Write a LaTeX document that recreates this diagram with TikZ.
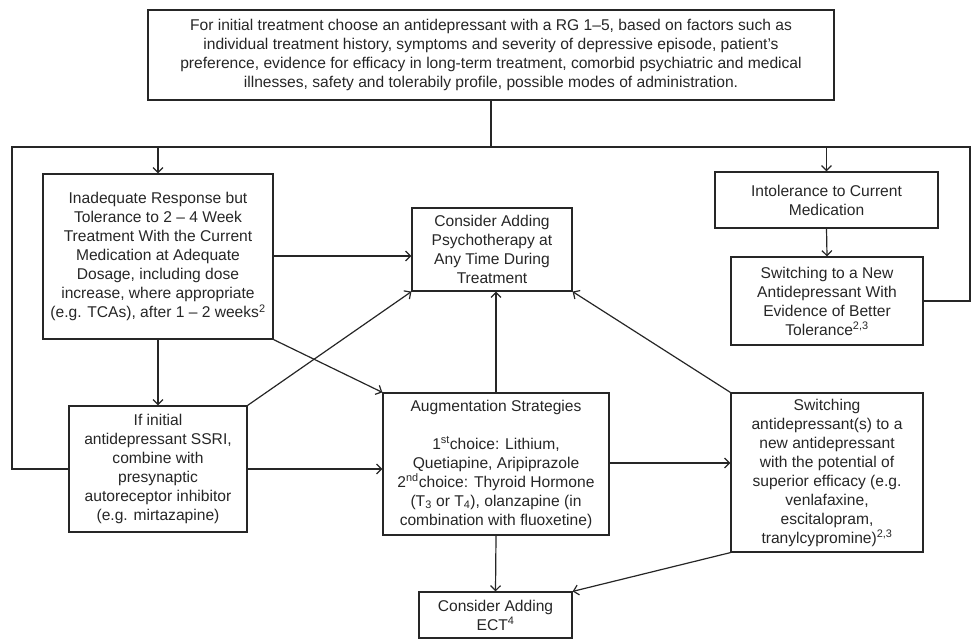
\documentclass[tikz,border=0pt]{standalone}
\usepackage{fontspec}
\setmainfont{Liberation Sans}
\usetikzlibrary{arrows.meta}
\definecolor{ink}{HTML}{262626}
\tikzset{
  box/.style={draw=ink, line width=1.2pt, rectangle, inner sep=0pt, align=center,
    text=ink, font={\fontsize{15.6}{19}\selectfont}},
  link/.style={draw=ink, line width=1.2pt, -{Straight Barb[length=5pt,width=10pt,line width=1.2pt]}},
  loop/.style={draw=ink, line width=1.6pt},
  plain/.style={draw=ink, line width=1.2pt},
}
\newcommand{\boxat}[6]{% name, x1, y1, x2, y2, text
  \node[box, minimum width={#4-#2}, minimum height={#5-#3}] (#1) at ({(#2+#4)/2},{(#3+#5)/2}) {#6};}
\begin{document}
\begin{tikzpicture}[x=1pt, y=-1pt]
\useasboundingbox (0,0) rectangle (973,640);

% boxes
\boxat{top}{148}{10}{834}{100}{For initial treatment choose an antidepressant with a RG 1–5, based on factors such as\\
individual treatment history, symptoms and severity of depressive episode, patient’s\\
preference, evidence for efficacy in long-term treatment, comorbid psychiatric and medical\\
illnesses, safety and tolerabily profile, possible modes of administration.}

\boxat{inad}{43}{174}{273}{339}{Inadequate Response but\\ Tolerance to 2 – 4 Week\\ Treatment With the Current\\ Medication at Adequate\\ Dosage, including dose\\ increase, where appropriate\\ (e.g. TCAs), after 1 – 2 weeks\textsuperscript{2}}

\boxat{psych}{412}{208}{572}{291}{Consider Adding\\ Psychotherapy at\\ Any Time During\\ Treatment}

\boxat{intol}{715}{172}{938}{228}{Intolerance to Current\\ Medication}

\boxat{swnew}{731}{257}{923}{345}{Switching to a New\\ Antidepressant With\\ Evidence of Better\\ Tolerance\textsuperscript{2,3}}

\boxat{ifinit}{69}{406}{247}{532}{If initial\\ antidepressant SSRI,\\ combine with\\ presynaptic\\ autoreceptor inhibitor\\ (e.g. mirtazapine)}

\boxat{aug}{383}{393}{609}{535}{Augmentation Strategies\\[19pt] 1\textsuperscript{st}choice: Lithium,\\ Quetiapine, Aripiprazole\\ 2\textsuperscript{nd}choice: Thyroid Hormone\\ (T\textsubscript{3} or T\textsubscript{4}), olanzapine (in\\ combination with fluoxetine)}

\boxat{sweff}{731}{393}{923}{552}{Switching\\ antidepressant(s) to a\\ new antidepressant\\ with the potential of\\ superior efficacy (e.g.\\ venlafaxine,\\ escitalopram,\\ tranylcypromine)\textsuperscript{2,3}}

\boxat{ect}{419}{592}{572}{638}{Consider Adding\\ ECT\textsuperscript{4}}

% outer loop joining the start box with both branches
\coordinate (junc) at (491,147);
\coordinate (lcorner) at (12,147);
\coordinate (rcorner) at (970,147);
\draw[plain] (top.south) -- (junc);
\draw[loop] (ifinit.west) -| (lcorner) -- (rcorner) |- (swnew.east);
\draw[link] (inad.north |- junc) -- (inad.north);
\draw[link] (intol.north |- junc) -- (intol.north);

% connectors between the boxes
\draw[link] (inad.east |- 0,256) -- (psych.west |- 0,256);
\draw[link] (inad.south) -- (ifinit.north);
\draw[link] (inad.south east) -- (aug.north west);
\draw[link] (ifinit.north east) -- (psych.south west);
\draw[link] (ifinit.east) -- (aug.west |- ifinit.east);
\draw[link] (aug.north) -- (aug.north |- psych.south);
\draw[link] (aug.east |- 0,463) -- (sweff.west |- 0,463);
\draw[link] (sweff.north west) -- (psych.south east);
\draw[link] (intol.south) -- (swnew.north);
\draw[link] (aug.south) -- (ect.north);
\draw[link] (sweff.south west) -- (ect.north east);
\end{tikzpicture}
\end{document}
